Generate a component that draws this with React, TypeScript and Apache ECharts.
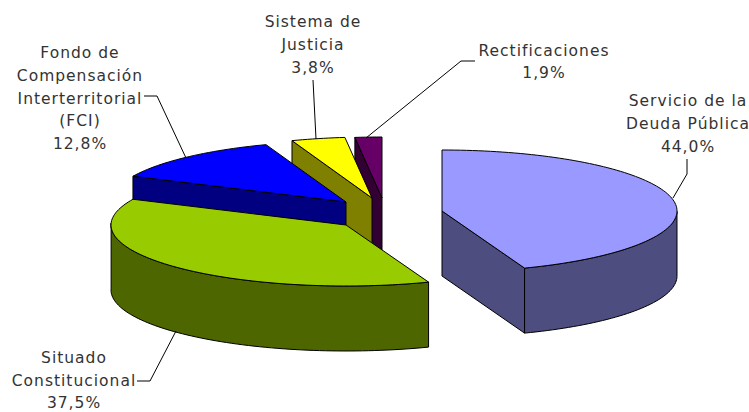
import React, { useEffect, useRef } from "react";
import * as echarts from "echarts";

const categories = [
  "Servicio de la\nDeuda Pública",
  "Situado\nConstitucional",
  "Fondo de\nCompensación\nInterterritorial\n(FCI)",
  "Sistema de\nJusticia",
  "Rectificaciones",
];
const shares = [44.0, 37.5, 12.8, 3.8, 1.9];
const topColors = ["#9999FF", "#99CC00", "#0000FF", "#FFFF00", "#660066"];
const sideColors = ["#4D4D80", "#4D6600", "#000080", "#808000", "#330033"];

// Exploded pie centres (top face) and label placement
const centers = [[442, 211], [346, 225], [346, 202], [372, 198], [382, 198]];
const labelPos = [[688, 124], [74, 380.5], [80, 98.5], [313, 45], [544, 62]];
const leaders = [
  [[687, 159], [687, 174], [673, 198]],
  [[137, 381], [150, 381], [176, 331]],
  [[144, 96], [157, 96], [186, 158]],
  [[313, 80], [316, 139]],
  [[475, 61], [461, 61], [366, 138]],
];
const RX = 235;
const RY = 61;
const DEPTH = 65;
const PERSPECTIVE = 1.8; // small angular distortion of the tilted pie, in degrees
const FONT = "'DejaVu Sans', Verdana, sans-serif";

const total = shares.reduce((a, b) => a + b, 0);
const starts: number[] = [];
shares.reduce((acc, v, i) => {
  starts[i] = (acc / total) * 360;
  return acc + v;
}, 0);

function pt(i: number, deg: number, drop = 0): number[] {
  const f = deg / 360;
  const d = deg + PERSPECTIVE * Math.sin(Math.PI * f * f);
  const r = (d * Math.PI) / 180;
  return [centers[i][0] + RX * Math.sin(r), centers[i][1] - RY * Math.cos(r) + drop];
}
function arc(i: number, a: number, b: number, drop = 0): number[][] {
  const n = Math.max(2, Math.ceil(Math.abs(b - a) / 1.5));
  const out: number[][] = [];
  for (let k = 0; k <= n; k++) out.push(pt(i, a + ((b - a) * k) / n, drop));
  return out;
}

function renderSlice(params: any, api: any) {
  const i = api.value(0) as number;
  const a = starts[i];
  const b = a + (api.value(1) as number / total) * 360;
  const c = centers[i];
  const children: any[] = [];
  const line = { stroke: "#000", lineWidth: 1, lineJoin: "round" };
  const face = (deg: number) => ({
    type: "polygon",
    shape: { points: [c, pt(i, deg), pt(i, deg, DEPTH), [c[0], c[1] + DEPTH]] },
    style: { fill: sideColors[i], ...line },
  });
  if (Math.sin((a * Math.PI) / 180) < -1e-6) children.push(face(a));
  if (Math.sin((b * Math.PI) / 180) > 1e-6) children.push(face(b));
  const wa = Math.max(a, 90);
  const wb = Math.min(b, 270);
  if (wb > wa) {
    children.push({
      type: "polygon",
      shape: { points: [...arc(i, wa, wb), ...arc(i, wb, wa, DEPTH)] },
      style: { fill: sideColors[i], ...line },
    });
  }
  children.push({
    type: "polygon",
    shape: { points: [c, ...arc(i, a, b)] },
    style: { fill: topColors[i], ...line },
  });
  return { type: "group", children };
}

export default function App() {
  const ref = useRef<HTMLDivElement>(null);
  useEffect(() => {
    document.body.style.margin = "0";
    const chart = echarts.init(ref.current!, null, { renderer: "svg" });
    const drawOrder = shares.map((_, i) => i).reverse();
    chart.setOption({
      animation: false,
      backgroundColor: "#fff",
      series: [
        {
          type: "custom",
          coordinateSystem: "none",
          silent: true,
          renderItem: renderSlice,
          data: drawOrder.map((i) => [i, shares[i]]),
        },
      ],
      graphic: [
        ...leaders.map((pts) => ({
          type: "polyline",
          silent: true,
          z: 10,
          shape: { points: pts },
          style: { stroke: "#000", lineWidth: 1, fill: "none" },
        })),
        ...categories.map((name, i) => ({
          type: "text",
          silent: true,
          z: 11,
          x: labelPos[i][0],
          y: labelPos[i][1],
          style: {
            text: `${name}\n${shares[i].toFixed(1).replace(".", ",")}%`,
            font: `15.5px ${FONT}`,
            lineHeight: 22.7,
            fill: "#333",
            align: "center",
            verticalAlign: "middle",
          },
        })),
      ],
    });
    return () => chart.dispose();
  }, []);
  return (
    <div
      ref={ref}
      style={{ position: "fixed", left: 0, top: 0, width: 749, height: 412, letterSpacing: "1px" }}
    />
  );
}
